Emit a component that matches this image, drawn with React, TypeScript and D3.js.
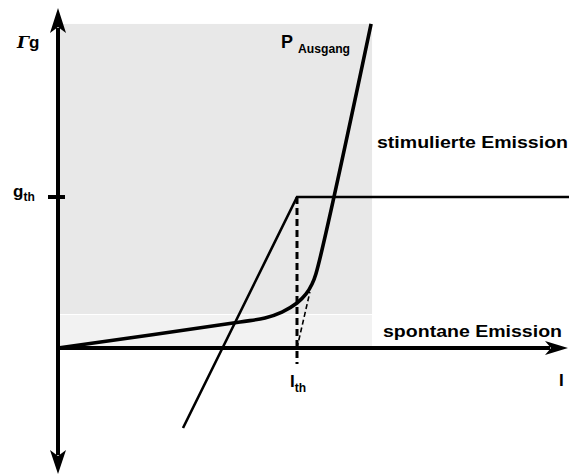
import React from "react";
import * as d3 from "d3";

// Data in chart units: I (current, I_th = 1) and Γg (gain, g_th = 1)
const xDomain = [0, 2.134];
const yDomain = [-0.53, 2.3];
const stimRegion = { i0: 0.008, i1: 1.314, g0: 0.225, g1: 2.146 };
const spontRegion = { i0: 0.008, i1: 1.314, g0: 0, g1: 0.225 };
const gainLine: [number, number][] = [
  [0.523, -0.53],
  [1.0, 1.0],
  [2.14, 1.0],
];
const powerCurve: [number, number][] = [
  [0.0, 0.0],
  [0.762, 0.172],
  [0.866, 0.199],
  [0.937, 0.238],
  [1.0, 0.298],
  [1.038, 0.358],
  [1.063, 0.424],
  [1.079, 0.49],
  [1.31, 2.146],
];
const thresholdTangent: [number, number][] = [
  [1.0, 0.0],
  [1.054, 0.371],
];
const thresholdI = 1.0;
const thresholdG = 1.0;

const W = 569;
const H = 475;

export default function App() {
  const x = d3.scaleLinear().domain([0, 1]).range([58, 297]);
  const y = d3.scaleLinear().domain([0, 1]).range([348, 197]);

  const line = d3.line<[number, number]>().x((d) => x(d[0])).y((d) => y(d[1]));
  const curve = d3
    .line<[number, number]>()
    .x((d) => x(d[0]))
    .y((d) => y(d[1]))
    .curve(d3.curveCatmullRom.alpha(0.5));

  const x0 = x(0);
  const y0 = y(0);
  const font = "'Liberation Sans', Arial, Helvetica, sans-serif";

  return (
    <svg
      width={W}
      height={H}
      style={{ position: "absolute", left: 0, top: 0, background: "#fff" }}
      fontFamily={font}
      fontWeight="bold"
    >
      {/* regions */}
      <rect
        x={x(stimRegion.i0)}
        y={y(stimRegion.g1)}
        width={x(stimRegion.i1) - x(stimRegion.i0)}
        height={y(stimRegion.g0) - y(stimRegion.g1)}
        fill="#e8e8e8"
      />
      <rect
        x={x(spontRegion.i0)}
        y={y(spontRegion.g1) + 1}
        width={x(spontRegion.i1) - x(spontRegion.i0)}
        height={y(spontRegion.g0) - y(spontRegion.g1) - 1}
        fill="#f2f2f2"
      />

      {/* threshold dashed vertical */}
      <line
        x1={x(thresholdI)}
        x2={x(thresholdI)}
        y1={y(thresholdG)}
        y2={364}
        stroke="#000"
        strokeWidth={3}
        strokeDasharray="7,4"
      />
      {/* thin dashed tangent */}
      <path d={line(thresholdTangent) || ""} stroke="#000" strokeWidth={1.6} strokeDasharray="5,3" fill="none" />

      {/* gain line */}
      <path d={line(gainLine) || ""} stroke="#000" strokeWidth={2.6} fill="none" />

      {/* power curve */}
      <path d={curve(powerCurve) || ""} stroke="#000" strokeWidth={3.6} fill="none" strokeLinecap="butt" />

      {/* axes */}
      <line x1={x0} x2={x0} y1={28} y2={455} stroke="#000" strokeWidth={4} />
      <line x1={x0} x2={550} y1={y0} y2={y0} stroke="#000" strokeWidth={4} />
      {/* arrowheads */}
      <path d={`M${x0},8 L${x0 + 8},33 L${x0},27 L${x0 - 8},33 Z`} fill="#000" />
      <path d={`M${x0},474 L${x0 + 8},450 L${x0},456 L${x0 - 8},450 Z`} fill="#000" />
      <path d={`M568,${y0} L545,${y0 - 7} L551,${y0} L545,${y0 + 7} Z`} fill="#000" />
      {/* g_th tick */}
      <line x1={48} x2={65} y1={y(thresholdG)} y2={y(thresholdG)} stroke="#000" strokeWidth={4} />

      {/* labels */}
      <text x={17} y={48} fontSize={17}>
        <tspan fontStyle="italic" fontFamily="'DejaVu Serif', serif">Γ</tspan>
        <tspan>g</tspan>
      </text>
      <text x={13} y={197} fontSize={17}>
        g<tspan fontSize={12} dy={4}>th</tspan>
      </text>
      <text x={281} y={48} fontSize={18} textLength={12} lengthAdjust="spacingAndGlyphs">P</text>
      <text x={298} y={53} fontSize={12} textLength={52} lengthAdjust="spacingAndGlyphs">Ausgang</text>
      <text x={377} y={148} fontSize={17} textLength={191} lengthAdjust="spacingAndGlyphs">
        stimulierte Emission
      </text>
      <text x={383} y={337} fontSize={17} textLength={179} lengthAdjust="spacingAndGlyphs">
        spontane Emission
      </text>
      <text x={559} y={386} fontSize={17}>I</text>
      <text x={290} y={387} fontSize={17}>
        I<tspan fontSize={12} dy={5}>th</tspan>
      </text>
    </svg>
  );
}
